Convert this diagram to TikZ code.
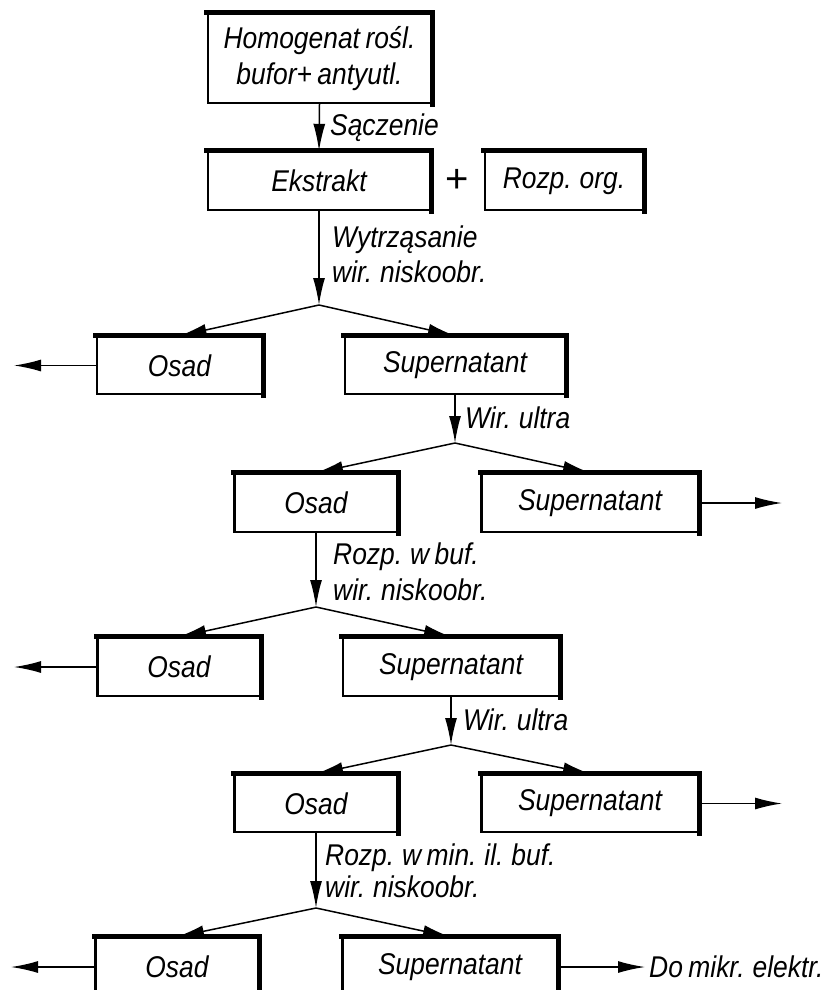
\documentclass[tikz,border=0pt]{standalone}
\usepackage{fontspec}
\setmainfont{Liberation Sans}[FakeStretch=0.88,WordSpace=0.75]
\newfontfamily\plusfont{Liberation Sans}
\usetikzlibrary{arrows.meta}
\begin{document}
\begin{tikzpicture}[x=1pt,y=-1pt,
  every node/.style={font=\fontsize{30}{36}\selectfont\itshape},
  box/.style={draw, line width=2.4pt, inner sep=0pt, align=center, minimum height=58pt},
  lbl/.style={anchor=west, inner sep=0pt},
  arr/.style={line width=1.5pt, -{Latex[length=27pt,width=12pt]}},
  thickedge/.style={line width=4.8pt, line cap=rect},
]
\useasboundingbox (0,0) rectangle (835,990);
\clip (0,0) rectangle (835,990);
\fill[white] (0,0) rectangle (835,990);

% boxes
\node[box, minimum width=223pt, minimum height=89pt] (homog) at (319.5,58.5) {Homogenat rośl.\\bufor+ antyutl.};
\node[box, minimum width=222pt] (ekstr) at (319,181) {Ekstrakt};
\node[box, minimum width=158pt] (rozp) at (564,181) {Rozp. org.};
\node[font=\fontsize{40}{40}\selectfont\plusfont] (plus) at (457,181) {+};

\node[box, minimum width=165pt, minimum height=57pt] (osad1) at (179.5,365.5) {Osad};
\node[box, minimum width=220pt, minimum height=57pt] (sup1) at (455,365.5) {Supernatant};

\node[box, minimum width=163pt] (osad2) at (316,503) {Osad};
\node[box, minimum width=217pt] (sup2) at (590,503) {Supernatant};

\node[box, minimum width=163pt] (osad3) at (179,667) {Osad};
\node[box, minimum width=216pt] (sup3) at (451,667) {Supernatant};

\node[box, minimum width=163pt, minimum height=57pt] (osad4) at (316,803.5) {Osad};
\node[box, minimum width=217pt, minimum height=57pt] (sup4) at (590,803.5) {Supernatant};

\node[box, minimum width=163pt] (osad5) at (177,967) {Osad};
\node[box, minimum width=215pt] (sup5) at (450,967) {Supernatant};

\foreach \n in {homog,ekstr,rozp,osad1,sup1,osad2,sup2,osad3,sup3,osad4,sup4,osad5,sup5}
  \draw[thickedge] (\n.north west) -- (\n.north east) -- (\n.south east);

% split points
\coordinate (s1) at (319,305);
\coordinate (s2) at (455,443);
\coordinate (s3) at (316,607);
\coordinate (s4) at (451,745);
\coordinate (s5) at (316,908);

% free ends
\coordinate (l1) at (14,365.5);
\coordinate (l3) at (14,667);
\coordinate (l5) at (11,967);
\coordinate (r2) at (782,503);
\coordinate (r4) at (782,803.5);
\coordinate (r5) at (645,967);

% connectors
\draw[arr] (homog.south) -- (ekstr.north);
\draw[arr] (ekstr.south) -- (s1);
\draw[arr] (s1) -- (osad1.north);
\draw[arr] (s1) -- (sup1.north);
\draw[arr] (osad1.west) -- (l1);
\draw[arr] (sup1.south) -- (s2);
\draw[arr] (s2) -- (osad2.north);
\draw[arr] (s2) -- (sup2.north);
\draw[arr] (sup2.east) -- (r2);
\draw[arr] (osad2.south) -- (s3);
\draw[arr] (s3) -- (osad3.north);
\draw[arr] (s3) -- (sup3.north);
\draw[arr] (osad3.west) -- (l3);
\draw[arr] (sup3.south) -- (s4);
\draw[arr] (s4) -- (osad4.north);
\draw[arr] (s4) -- (sup4.north);
\draw[arr] (sup4.east) -- (r4);
\draw[arr] (osad4.south) -- (s5);
\draw[arr] (s5) -- (osad5.north);
\draw[arr] (s5) -- (sup5.north);
\draw[arr] (osad5.west) -- (l5);
\draw[arr] (sup5.east) -- (r5);

% labels
\node[lbl] (t1) at (330,128) {Sączenie};
\node[lbl] (t2) at (332,240) {Wytrząsanie};
\node[lbl] (t3) at (332,272) {wir. niskoobr.};
\node[lbl] (t4) at (465,418) {Wir. ultra};
\node[lbl] (t5) at (333,557) {Rozp. w buf.};
\node[lbl] (t6) at (333,590) {wir. niskoobr.};
\node[lbl] (t7) at (463,720) {Wir. ultra};
\node[lbl] (t8) at (325,858) {Rozp. w min. il. buf.};
\node[lbl] (t9) at (325,887) {wir. niskoobr.};
\node[lbl] (t10) at (649,967) {Do mikr. elektr.};
\end{tikzpicture}
\end{document}
